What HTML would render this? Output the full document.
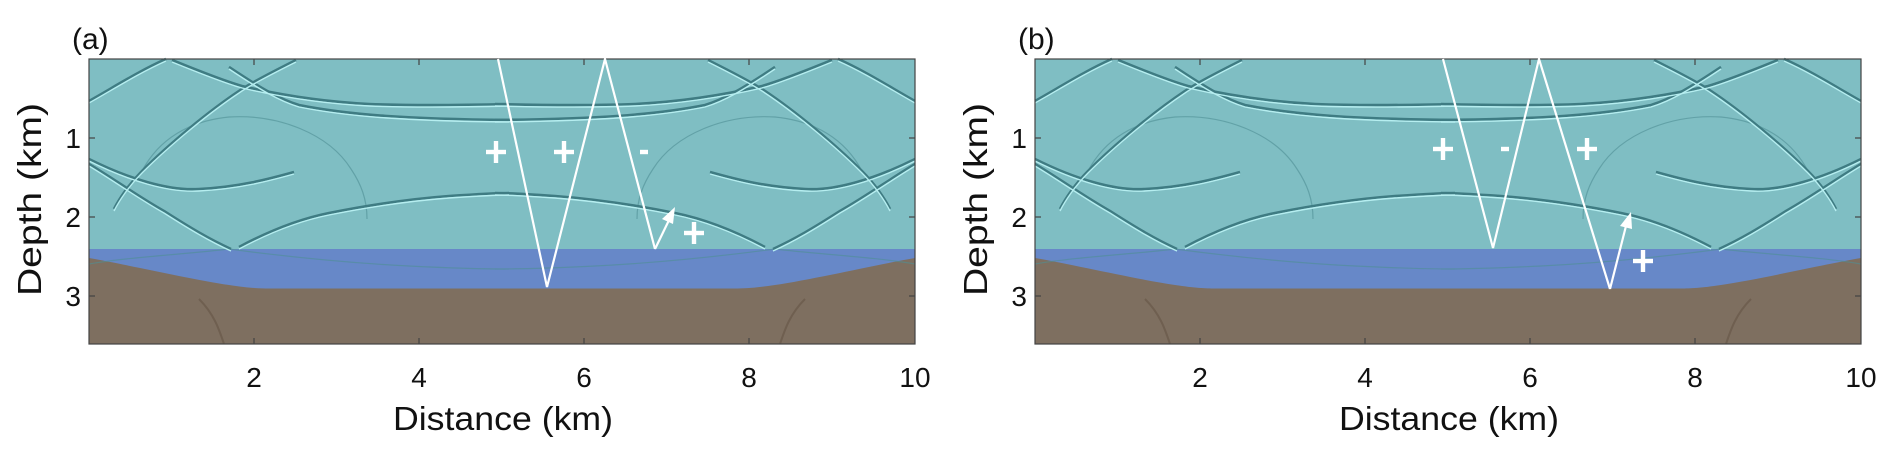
<!DOCTYPE html>
<html><head><meta charset="utf-8"><style>
html,body{margin:0;padding:0;background:#fff;}
svg{display:block;}
text{font-family:"Liberation Sans",sans-serif;fill:#111;}
</style></head><body>
<svg width="1892" height="457" viewBox="0 0 1892 457" xmlns="http://www.w3.org/2000/svg">
<defs>
  <g id="halfwaves" fill="none">
    <path d="M0,42 C25,28 50,12 77,0"/>
    <path d="M207,1 C185,12 160,25 150,32 C120,52 80,85 53,112 C40,125 30,140 25,150"/>
    <path d="M83,1 C110,12 135,22 153,27 C200,38 240,43 280,45 C330,47 380,46 420,45"/>
    <path d="M140,8 C170,28 190,40 210,46 C260,56 320,60 420,61"/>
    <path d="M0,105 C25,120 50,138 75,152 C100,168 120,180 142,190"/>
    <path d="M0,100 C40,120 80,132 110,130 C150,128 180,120 205,113"/>
    <path d="M150,188 C180,172 210,160 240,154 C280,146 320,140 360,137 C390,135 405,134 420,134"/>
  </g>
  <g id="faint" fill="none">
    <path d="M53,112 C70,80 100,62 140,58 C190,55 240,75 262,110 C272,125 278,140 278,160"/>
    <path d="M140,190 C200,198 260,204 320,207 C360,209 390,210 420,210"/>
    <path d="M0,205 C40,198 100,195 140,190"/>
  </g>
  <g id="panel">
    <rect x="0" y="0" width="826" height="285" fill="#7fbec3"/>
    <rect x="0" y="190" width="826" height="95" fill="#6788c8"/>
    <path d="M0,199 C40,206 100,220 140,226 C160,229 170,229.5 180,229.5 L646,229.5 C656,229.5 666,229 686,226 C726,220 786,206 826,199 L826,285 L0,285 Z" fill="#7e6f60"/>
    <g stroke="#4f8f95" stroke-width="1.2" opacity="0.6"><use href="#faint"/><use href="#faint" transform="translate(826,0) scale(-1,1)"/></g>
    <g stroke="#3f7c83" stroke-width="2.6"><use href="#halfwaves"/><use href="#halfwaves" transform="translate(826,0) scale(-1,1)"/></g>
    <g stroke="#b6eef0" stroke-width="1.4" transform="translate(0,2)"><use href="#halfwaves"/><use href="#halfwaves" transform="translate(826,0) scale(-1,1)"/></g>
    <g stroke="#5f5040" stroke-width="2" fill="none" opacity="0.5">
      <path d="M110,240 C125,255 130,270 135,285"/>
      <path d="M716,240 C701,255 696,270 691,285"/>
    </g>
    <rect x="0" y="0" width="826" height="285" fill="none" stroke="#444" stroke-width="1.2"/>
    <g stroke="#444" stroke-width="1.2">
      <line x1="165" y1="0" x2="165" y2="6"/><line x1="330" y1="0" x2="330" y2="6"/><line x1="495" y1="0" x2="495" y2="6"/><line x1="660" y1="0" x2="660" y2="6"/>
      <line x1="165" y1="285" x2="165" y2="279"/><line x1="330" y1="285" x2="330" y2="279"/><line x1="495" y1="285" x2="495" y2="279"/><line x1="660" y1="285" x2="660" y2="279"/>
      <line x1="0" y1="79" x2="6" y2="79"/><line x1="0" y1="158" x2="6" y2="158"/><line x1="0" y1="237" x2="6" y2="237"/>
      <line x1="826" y1="79" x2="820" y2="79"/><line x1="826" y1="158" x2="820" y2="158"/><line x1="826" y1="237" x2="820" y2="237"/>
    </g>
    <g font-size="28" text-anchor="middle">
      <text x="165" y="328">2</text><text x="330" y="328">4</text><text x="495" y="328">6</text><text x="660" y="328">8</text><text x="826" y="328">10</text>
    </g>
    <g font-size="28" text-anchor="end">
      <text x="-8" y="89">1</text><text x="-8" y="168">2</text><text x="-8" y="247">3</text>
    </g>
    <text x="304" y="371" font-size="33" textLength="220" lengthAdjust="spacingAndGlyphs">Distance (km)</text>
    <text transform="translate(-48,237) rotate(-90)" font-size="33" textLength="193" lengthAdjust="spacingAndGlyphs">Depth (km)</text>
  </g>
  <g id="plus"><rect x="-10" y="-2.2" width="20" height="4.4" fill="#fff"/><rect x="-2.2" y="-11" width="4.4" height="22" fill="#fff"/></g>
  <rect id="minus" x="-4" y="-2.2" width="8" height="4.4" fill="#fff"/>
</defs>

<g transform="translate(89,59)"><use href="#panel"/></g>
<g transform="translate(1035,59)"><use href="#panel"/></g>

<text x="72" y="49" font-size="30">(a)</text>
<text x="1018" y="49" font-size="30">(b)</text>

<!-- rays panel a -->
<g stroke="#fff" stroke-width="2.2" fill="none">
  <polyline points="498,59 547,287 605,59 655,249"/>
  <line x1="655" y1="249" x2="671" y2="216"/>
</g>
<polygon points="675,207 662,219 673,224" fill="#fff"/>
<use href="#plus" x="496" y="152"/>
<use href="#plus" x="564" y="152"/>
<use href="#minus" x="644" y="152"/>
<use href="#plus" x="694" y="233"/>

<!-- rays panel b -->
<g stroke="#fff" stroke-width="2.2" fill="none">
  <polyline points="1443,59 1493,248 1539,59 1610,289"/>
  <line x1="1610" y1="289" x2="1627" y2="222"/>
</g>
<polygon points="1631,212 1620,226 1632,229" fill="#fff"/>
<use href="#plus" x="1443" y="149"/>
<use href="#minus" x="1505" y="149"/>
<use href="#plus" x="1587" y="149"/>
<use href="#plus" x="1643" y="261"/>
</svg>
</body></html>
